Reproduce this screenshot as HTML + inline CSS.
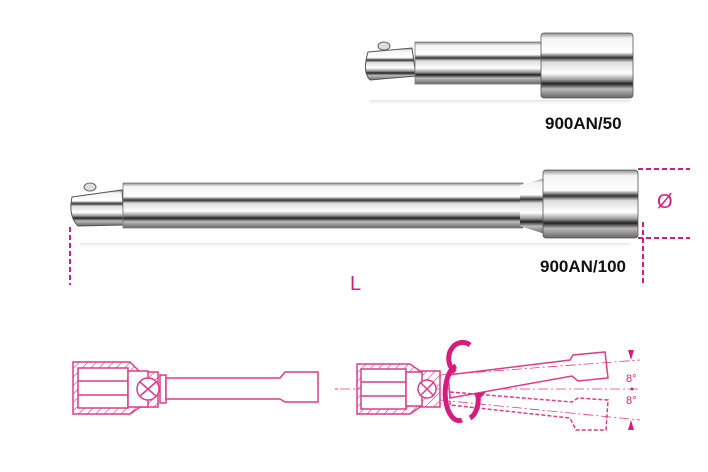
<!DOCTYPE html>
<html><head><style>
html,body{margin:0;padding:0;background:#fff;width:708px;height:472px;overflow:hidden}
</style></head><body>
<svg width="708" height="472" viewBox="0 0 708 472" xmlns="http://www.w3.org/2000/svg" font-family="Liberation Sans, sans-serif">
<defs>
<linearGradient id="chrome" x1="0" y1="0" x2="0" y2="1">
<stop offset="0" stop-color="#888"/><stop offset="0.08" stop-color="#f4f4f4"/>
<stop offset="0.3" stop-color="#fff"/><stop offset="0.38" stop-color="#333"/>
<stop offset="0.45" stop-color="#ddd"/><stop offset="0.62" stop-color="#fff"/>
<stop offset="0.72" stop-color="#999"/><stop offset="0.78" stop-color="#222"/>
<stop offset="0.86" stop-color="#bbb"/><stop offset="1" stop-color="#666"/>
</linearGradient>
<linearGradient id="shadow" x1="0" y1="0" x2="0" y2="1">
<stop offset="0" stop-color="#ddd" stop-opacity="0.8"/><stop offset="1" stop-color="#fff" stop-opacity="0"/>
</linearGradient>
<pattern id="hatch" width="6" height="6" patternUnits="userSpaceOnUse" patternTransform="rotate(45)">
<line x1="0" y1="0" x2="0" y2="6" stroke="#dc3c8a" stroke-width="1.2"/>
</pattern>
</defs>

<!-- top tool -->
<rect x="370" y="100" width="260" height="6" fill="url(#shadow)"/>
<path d="M368 52 L412 48 L416 76 L370 80 Q362 72 368 52Z" fill="url(#chrome)" stroke="#555" stroke-width="1"/>
<ellipse cx="384" cy="46" rx="6" ry="4" fill="#ddd" stroke="#666"/>
<rect x="415" y="42" width="130" height="42" fill="url(#chrome)" stroke="#777" stroke-width="0.8"/>
<rect x="541" y="33" width="92" height="65" rx="3" fill="url(#chrome)" stroke="#555" stroke-width="0.8"/>
<text x="545" y="129" font-size="17" font-weight="bold" fill="#111">900AN/50</text>

<!-- long tool -->
<rect x="80" y="243" width="550" height="5" fill="url(#shadow)"/>
<path d="M72 197 L122 190 L124 225 L78 226 Q68 216 72 197Z" fill="url(#chrome)" stroke="#555" stroke-width="1"/>
<ellipse cx="90" cy="187" rx="6" ry="4" fill="#ddd" stroke="#666"/>
<rect x="123" y="183" width="400" height="45" fill="url(#chrome)" stroke="#777" stroke-width="0.8"/>
<path d="M520 185 L545 178 L545 234 L520 226Z" fill="url(#chrome)"/>
<rect x="543" y="170" width="95" height="68" rx="3" fill="url(#chrome)" stroke="#555" stroke-width="0.8"/>
<text x="540" y="272" font-size="17" font-weight="bold" fill="#111">900AN/100</text>

<!-- dimension lines -->
<g stroke="#d31e7e" stroke-width="2" stroke-dasharray="5,3" fill="none">
<line x1="70" y1="227" x2="70" y2="285"/>
<line x1="643" y1="222" x2="643" y2="285"/>
<line x1="638" y1="169" x2="690" y2="169"/>
<line x1="638" y1="238" x2="690" y2="238"/>
</g>
<text x="657" y="208" font-size="20" fill="#d31e7e">Ø</text>
<text x="350" y="290" font-size="20" fill="#d31e7e">L</text>

<!-- bottom left drawing -->
<g stroke="#dc3c8a" stroke-width="1.5" fill="none">
<path d="M73 362 L130 362 L140 372 L158 372 L158 407 L140 407 L130 414 L73 414Z" fill="url(#hatch)"/>
<rect x="78" y="368" width="50" height="40" fill="#fff"/>
<line x1="78" y1="381" x2="128" y2="381"/><line x1="78" y1="395" x2="128" y2="395"/>
<rect x="128" y="371" width="20" height="36" fill="#fff"/>
<circle cx="148" cy="389" r="11" fill="#fff"/>
<path d="M140 382 L156 396 M156 382 L140 396"/>
<rect x="160" y="375" width="6" height="28" fill="#fff"/>
<path d="M166 378 L280 378 L285 372 L318 372 L318 402 L285 402 L280 399 L166 399Z" fill="#fff"/>
</g>
<line x1="335" y1="389" x2="338" y2="389" stroke="#dc3c8a"/>

<!-- bottom right drawing -->
<g stroke="#dc3c8a" stroke-width="1.5" fill="none">
<line x1="340" y1="389" x2="640" y2="389" stroke-dasharray="10,3,2,3" stroke-width="0.8"/>
<path d="M357 364 L410 364 L420 371 L440 371 L440 407 L420 407 L410 414 L357 414Z" fill="url(#hatch)"/>
<rect x="361" y="369" width="45" height="40" fill="#fff"/>
<line x1="361" y1="382" x2="406" y2="382"/><line x1="361" y1="396" x2="406" y2="396"/>
<rect x="406" y="372" width="16" height="34" fill="#fff"/>
<circle cx="427" cy="389" r="9" fill="#fff"/>
<path d="M420 382 L434 396 M434 382 L420 396"/>
<path d="M448 375 L570 360 L573 355 L605 352 L608 378 L578 381 L572 376 L450 398Z" fill="#fff"/>
<path d="M450 392 L572 402 L578 398 L608 400 L606 430 L576 430 L570 418 L450 405Z" stroke-dasharray="4,2"/>
<line x1="440" y1="375" x2="640" y2="360" stroke-dasharray="10,3,2,3" stroke-width="0.8"/>
<line x1="440" y1="400" x2="640" y2="420" stroke-dasharray="10,3,2,3" stroke-width="0.8"/>
</g>
<path d="M456 366 A10 20 0 0 0 462 420" stroke="#d31e7e" stroke-width="5" fill="none"/>
<path d="M470 345 A12 14 0 0 0 455 372" stroke="#d31e7e" stroke-width="5" fill="none"/>
<path d="M478 395 A12 20 0 0 1 470 418" stroke="#d31e7e" stroke-width="5" fill="none"/>
<polygon points="486,392 474,394 478,401" fill="#d31e7e"/>
<polygon points="628,350 634,350 631,360" fill="#d31e7e"/>
<polygon points="628,430 634,430 631,420" fill="#d31e7e"/>
<circle cx="632" cy="389" r="1.5" fill="#d31e7e"/>
<text x="626" y="382" font-size="11" fill="#d31e7e">8°</text>
<text x="626" y="404" font-size="11" fill="#d31e7e">8°</text>
</svg>
</body></html>
